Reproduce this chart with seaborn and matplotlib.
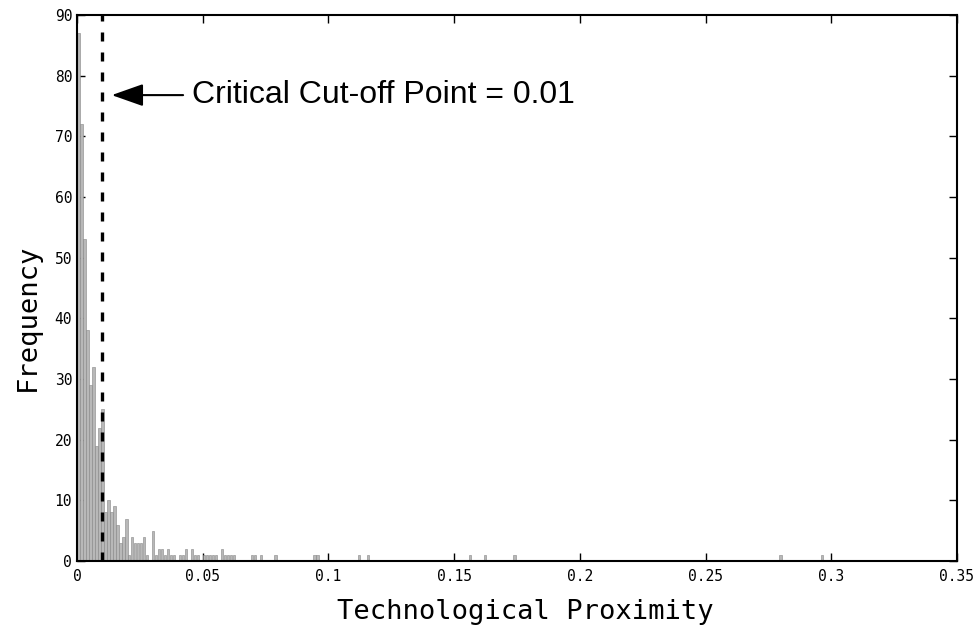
import matplotlib
matplotlib.use('Agg')
import matplotlib.pyplot as plt
import seaborn as sns

# proximity values (bin centres) and their counts
proximity = [0.0006, 0.0018, 0.0030, 0.0042, 0.0053, 0.0065, 0.0077, 0.0089, 0.0101,
             0.0113, 0.0125, 0.0137, 0.0148, 0.0160, 0.0172, 0.0184, 0.0196, 0.0208, 0.0220,
             0.0232, 0.0244, 0.0255, 0.0267, 0.0279, 0.0303, 0.0315,
             0.0327, 0.0339, 0.0350, 0.0362, 0.0374, 0.0386, 0.0410, 0.0422, 0.0434,
             0.0457, 0.0469, 0.0481, 0.0505, 0.0517, 0.0529, 0.0540, 0.0552, 0.0576,
             0.0588, 0.0600, 0.0612, 0.0624,
             0.0695, 0.0707, 0.0731, 0.0790, 0.0944, 0.0956, 0.1123, 0.1158,
             0.1562, 0.1622, 0.1740, 0.2798, 0.2964]
frequency = [87, 72, 53, 38, 29, 32, 19, 22, 25,
             8, 10, 8, 9, 6, 3, 4, 7, 1, 4,
             3, 3, 3, 4, 1, 5, 1,
             2, 2, 1, 2, 1, 1, 1, 1, 2,
             2, 1, 1, 1, 1, 1, 1, 1, 2,
             1, 1, 1, 1,
             1, 1, 1, 1, 1, 1, 1, 1,
             1, 1, 1, 1, 1]

cutoff = 0.01
x_ticks = [0, 0.05, 0.1, 0.15, 0.2, 0.25, 0.3, 0.35]
x_tick_labels = ['0', '0.05', '0.1', '0.15', '0.2', '0.25', '0.3', '0.35']
y_ticks = list(range(0, 91, 10))

sns.set_style('ticks')
plt.rcParams['font.family'] = ['DejaVu Sans Mono']
plt.rcParams['text.color'] = 'black'
plt.rcParams['axes.labelcolor'] = 'black'

fig = plt.figure(figsize=(9.75, 6.34), dpi=100)
ax = fig.add_axes([0.079, 0.1151, 0.9025, 0.8612])

sns.histplot(x=proximity, weights=frequency, bins=250, binrange=(0, 0.297),
             color='#b8b8b8', edgecolor='#858585', linewidth=0.4, shrink=0.8,
             alpha=1, ax=ax)

ax.axvline(cutoff, color='black', lw=2.4, linestyle=(0, (2.7, 3.3)))

ax.annotate('Critical Cut-off Point = 0.01', xy=(0.0138, 76.8), xytext=(0.0457, 76.8),
            va='center', ha='left', fontsize=23, family='Liberation Sans', color='black',
            arrowprops=dict(arrowstyle='-|>,head_length=0.85,head_width=0.3',
                            color='black', lw=1.5, shrinkA=4, shrinkB=0))

ax.set_xlim(0, 0.35)
ax.set_ylim(0, 90)
ax.set_xticks(x_ticks)
ax.set_xticklabels(x_tick_labels)
ax.set_yticks(y_ticks)
ax.tick_params(direction='in', length=6, width=1, labelsize=10.5,
               top=True, right=True, colors='black', labelcolor='black')
ax.tick_params(axis='x', pad=6)
for s in ax.spines.values():
    s.set_linewidth(1.5)
    s.set_color('black')

ax.set_xlabel('Technological Proximity', fontsize=19.5)
ax.set_ylabel('Frequency', fontsize=19.5)
ax.xaxis.set_label_coords(0.51, -0.07)
ax.yaxis.set_label_coords(-0.041, 0.447)

plt.savefig('out.png', dpi=100)
